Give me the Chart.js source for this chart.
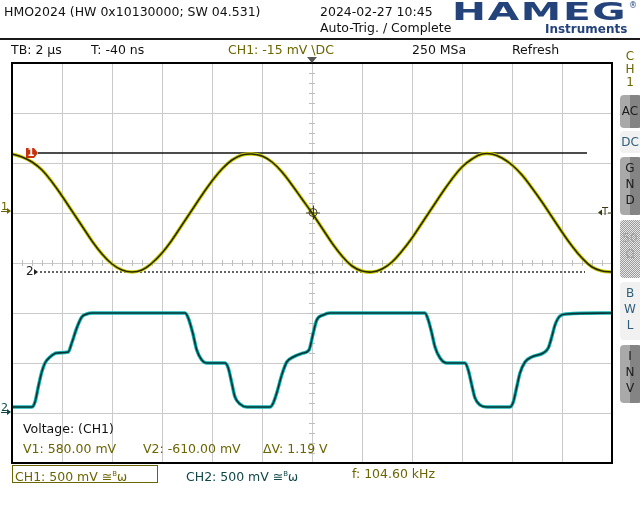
<!DOCTYPE html>
<html>
<head>
<meta charset="utf-8">
<script src="https://cdn.jsdelivr.net/npm/chart.js@4.4.1/dist/chart.umd.min.js"></script>
<style>
  body { margin: 0; background: #fff; }
  #scope { position: relative; width: 640px; height: 520px; overflow: hidden; font-family: "DejaVu Sans", sans-serif; font-size: 12.5px; color: #111; }
  #chart { position: absolute; left: 0; top: 0; }
  .t { position: absolute; line-height: 16px; white-space: nowrap; }
  .olive { color: #6b6500; }
  .teal { color: #0f4646; }
  .rule { position: absolute; left: 0; top: 38px; width: 640px; height: 2px; background: #1a1a1a; }
  #logo { position: absolute; left: 452px; top: -3px; font: bold 24px "DejaVu Sans", sans-serif; color: #24437a; transform-origin: 0 0; letter-spacing: 1px; }
  #reg { position: absolute; left: 629px; top: 1px; font-size: 8px; color: #24437a; }
  #instr { position: absolute; left: 545px; top: 21px; font: bold 13px "DejaVu Sans", sans-serif; color: #24437a; transform-origin: 0 0; }
  .bw sup { font-size: 7px; vertical-align: 5px; }
  .bw { font-size: 12px; }
  #ch1box { position: absolute; left: 12px; top: 465px; width: 144px; height: 16px; border: 1px solid #6b6500; }
  .side { position: absolute; left: 625px; width: 10px; text-align: center; line-height: 14px; font-size: 12px; }
  .btn { position: absolute; left: 620px; width: 22px; border-radius: 4px; font-size: 12px; line-height: 16px; box-sizing: border-box; }
  .btn span { display: block; width: 20px; text-align: center; }
  .gray { background: linear-gradient(90deg, #a9a9a9 0 45%, #848484 45% 100%); color: #1c1c1c; }
  .light { background: #f1f1f1; color: #2f5f7a; }
  .dith { background: repeating-conic-gradient(#9c9c9c 0 25%, #e6e6e6 0 50%) 0 0 / 2px 2px; color: #a2a2a2; }
</style>
</head>
<body>
<div id="scope">
  <canvas id="chart" width="640" height="520"></canvas>

  <div class="t" style="left:4px;top:4px">HMO2024 (HW 0x10130000; SW 04.531)</div>
  <div class="t" style="left:320px;top:4px">2024-02-27 10:45</div>
  <div class="t" style="left:320px;top:20px">Auto-Trig. / Complete</div>
  <div id="logo">HAMEG</div>
  <div id="reg">®</div>
  <div id="instr">Instruments</div>
  <div class="rule"></div>

  <div class="t" style="left:11px;top:42px">TB: 2 µs</div>
  <div class="t" style="left:91px;top:42px">T: -40 ns</div>
  <div class="t olive" style="left:228px;top:42px">CH1: -15 mV \DC</div>
  <div class="t" style="left:412px;top:42px">250 MSa</div>
  <div class="t" style="left:512px;top:42px">Refresh</div>

  <div class="side olive" style="top:49px">C</div>
  <div class="side olive" style="top:62px">H</div>
  <div class="side olive" style="top:75px">1</div>
  <div class="btn gray" style="top:95px;height:33px;padding-top:8px"><span>AC</span></div>
  <div class="btn light" style="top:131px;height:22px;padding-top:3px"><span>DC</span></div>
  <div class="btn gray" style="top:157px;height:58px;padding-top:3px"><span>G</span><span>N</span><span>D</span></div>
  <div class="btn dith" style="top:220px;height:58px;padding-top:10px"><span>50</span><span>Ω</span></div>
  <div class="btn light" style="top:282px;height:58px;padding-top:3px"><span>B</span><span>W</span><span>L</span></div>
  <div class="btn gray" style="top:345px;height:58px;padding-top:3px"><span>I</span><span>N</span><span>V</span></div>

  <div class="t" style="left:23px;top:421px">Voltage: (CH1)</div>
  <div class="t olive" style="left:23px;top:441px">V1: 580.00 mV</div>
  <div class="t olive" style="left:143px;top:441px">V2: -610.00 mV</div>
  <div class="t olive" style="left:263px;top:441px">ΔV: 1.19 V</div>

  <div id="ch1box"></div>
  <div class="t olive" style="left:15px;top:466px">CH1: 500 mV ≅<span class="bw"><sup>B</sup>ω</span></div>
  <div class="t teal" style="left:186px;top:466px">CH2: 500 mV ≅<span class="bw"><sup>B</sup>ω</span></div>
  <div class="t olive" style="left:352px;top:466px">f: 104.60 kHz</div>
</div>

<script>
// DATA (time in µs, voltage in V)
const ch1TimeUs = [-12.0, -11.6, -11.2, -10.8, -10.4, -10.0, -9.6, -9.2, -8.8, -8.4,
  -8.0, -7.6, -7.2, -6.8, -6.4, -6.0, -5.6, -5.2, -4.8, -4.4,
  -4.0, -3.6, -3.2, -2.8, -2.4, -2.0, -1.6, -1.2, -0.8, -0.4,
  0.0, 0.4, 0.8, 1.2, 1.6, 2.0, 2.4, 2.8, 3.2, 3.6,
  4.0, 4.4, 4.8, 5.2, 5.6, 6.0, 6.4, 6.8, 7.2, 7.6,
  8.0, 8.4, 8.8, 9.2, 9.6, 10.0, 10.4, 10.8, 11.2, 11.6, 12.0];
const ch1Volts = [0.57, 0.54, 0.49, 0.41, 0.29, 0.15, 0.00, -0.15, -0.30, -0.43,
  -0.53, -0.59, -0.61, -0.59, -0.52, -0.42, -0.29, -0.14, 0.01, 0.16,
  0.30, 0.42, 0.51, 0.56, 0.57, 0.55, 0.49, 0.39, 0.26, 0.12,
  -0.02, -0.17, -0.32, -0.45, -0.55, -0.60, -0.61, -0.58, -0.51, -0.40,
  -0.27, -0.12, 0.03, 0.18, 0.32, 0.44, 0.52, 0.57, 0.57, 0.53,
  0.46, 0.36, 0.23, 0.09, -0.06, -0.21, -0.35, -0.47, -0.56, -0.60, -0.61];

const ch2TimeUs = [-12.0, -11.2, -11.08, -10.95, -10.81, -10.68, -10.48, -10.21, -9.75, -9.61,
  -9.41, -9.21, -9.01, -8.8, -5.08, -4.95, -4.77, -4.61, -4.41, -4.21,
  -3.48, -3.35, -3.21, -3.08, -2.88, -2.61, -1.68, -1.55, -1.41, -1.21,
  -1.01, -0.75, -0.35, -0.12, 0.05, 0.19, 0.45, 0.72, 4.52, 4.65,
  4.79, 4.92, 5.12, 5.39, 6.12, 6.25, 6.39, 6.52, 6.72, 6.99,
  7.92, 8.05, 8.19, 8.32, 8.52, 8.79, 9.25, 9.45, 9.59, 9.72,
  9.92, 10.19, 12.0];
const ch2Volts = [0.05, 0.05, 0.10, 0.25, 0.40, 0.49, 0.55, 0.59, 0.60, 0.69,
  0.84, 0.95, 0.98, 0.99, 0.99, 0.94, 0.79, 0.62, 0.52, 0.49,
  0.49, 0.44, 0.29, 0.15, 0.08, 0.05, 0.05, 0.09, 0.19, 0.37,
  0.50, 0.55, 0.59, 0.62, 0.79, 0.92, 0.97, 0.99, 0.99, 0.92,
  0.79, 0.65, 0.54, 0.49, 0.49, 0.42, 0.27, 0.14, 0.07, 0.05,
  0.05, 0.10, 0.25, 0.39, 0.50, 0.55, 0.59, 0.64, 0.75, 0.87,
  0.96, 0.98, 0.99];

// cursors (V1, V2) and how far they reach along time
const cursorVolts = [0.58, -0.61];
const cursor1SpanUs = [-10.96, 11.0];
const cursor2SpanUs = [-10.88, 10.92];
const triggerLevelV = -0.015;

// screen: 12 div x 2 µs, 8 div x 500 mV, ground of each channel sits at its own offset
const timeRange = [-12, 12];
const ch1Range = [-2.52, 1.48];
const ch2Range = [-0.51, 3.49];

const OLIVE = "#6b6500";
const TEAL = "#0f4646";

function pts(xs, ys) {
  return xs.map((x, i) => ({ x: x, y: ys[i] }));
}

// DECORATIONS: frame, centre-cross minor ticks, channel markers
const scopeDecor = {
  id: "scopeDecor",
  beforeDatasetsDraw(chart) {
    const ctx = chart.ctx, xs = chart.scales.x, ys = chart.scales.y;
    const cx = xs.getPixelForValue(0), cy = ys.getPixelForValue(0);
    ctx.save();
    ctx.strokeStyle = "#bdbdbd";
    ctx.lineWidth = 1;
    ctx.beginPath();
    for (let i = -20; i <= 20; i++) {
      const py = Math.round(ys.getPixelForValue(i / 5)) + 0.5;
      ctx.moveTo(cx - 3, py); ctx.lineTo(cx + 3, py);
    }
    for (let i = -30; i <= 30; i++) {
      const px = Math.round(xs.getPixelForValue(i * 0.4)) + 0.5;
      ctx.moveTo(px, cy - 3); ctx.lineTo(px, cy + 3);
    }
    ctx.stroke();
    ctx.restore();
  },
  afterDraw(chart) {
    const ctx = chart.ctx, a = chart.chartArea;
    const xs = chart.scales.x, y1 = chart.scales.yCh1, y2 = chart.scales.yCh2;
    ctx.save();

    // frame
    ctx.strokeStyle = "#000";
    ctx.lineWidth = 2;
    ctx.strokeRect(a.left, a.top, a.right - a.left, a.bottom - a.top);

    // cursor 1 tag
    const c1 = y1.getPixelForValue(cursorVolts[0]);
    ctx.fillStyle = "#c8320a";
    ctx.beginPath();
    ctx.moveTo(26, c1 - 5); ctx.lineTo(34, c1 - 5); ctx.lineTo(38, c1);
    ctx.lineTo(34, c1 + 5); ctx.lineTo(26, c1 + 5); ctx.closePath();
    ctx.fill();
    ctx.fillStyle = "#fff";
    ctx.font = "bold 10px 'DejaVu Sans'";
    ctx.textBaseline = "middle";
    ctx.fillText("1", 27.5, c1 + 0.5);

    // cursor 2 tag
    const c2 = y1.getPixelForValue(cursorVolts[1]);
    ctx.fillStyle = "#222";
    ctx.font = "12px 'DejaVu Sans'";
    ctx.fillText("2", 26, c2);
    ctx.beginPath();
    ctx.moveTo(34, c2 - 3); ctx.lineTo(38, c2); ctx.lineTo(34, c2 + 3); ctx.fill();

    // ground markers on the left edge
    [[y1.getPixelForValue(0), "1", OLIVE], [y2.getPixelForValue(0), "2", TEAL]].forEach(m => {
      ctx.fillStyle = m[2];
      ctx.strokeStyle = m[2];
      ctx.font = "11px 'DejaVu Sans'";
      ctx.textBaseline = "alphabetic";
      ctx.fillText(m[1], 1, m[0] - 1);
      ctx.lineWidth = 1;
      ctx.beginPath(); ctx.moveTo(1, m[0] + 0.5); ctx.lineTo(8, m[0] + 0.5); ctx.stroke();
      ctx.beginPath(); ctx.moveTo(7, m[0] - 3); ctx.lineTo(11, m[0]); ctx.lineTo(7, m[0] + 3); ctx.fill();
    });

    // trigger level marker on the right, trigger position on top
    const ty = y1.getPixelForValue(triggerLevelV), tx = xs.getPixelForValue(0);
    ctx.fillStyle = "#3a3a10";
    ctx.strokeStyle = "#3a3a10";
    ctx.beginPath(); ctx.moveTo(598, ty); ctx.lineTo(602, ty - 3); ctx.lineTo(602, ty + 3); ctx.fill();
    ctx.font = "10px 'DejaVu Sans'";
    ctx.textBaseline = "middle";
    ctx.fillText("T", 602, ty);
    ctx.beginPath(); ctx.moveTo(608, ty + 0.5); ctx.lineTo(612, ty + 0.5); ctx.stroke();

    ctx.fillStyle = "#555";
    ctx.beginPath(); ctx.moveTo(tx - 5, a.top - 6); ctx.lineTo(tx + 5, a.top - 6); ctx.lineTo(tx, a.top); ctx.fill();

    // trigger point crosshair
    ctx.strokeStyle = "#3a3a10";
    ctx.lineWidth = 1;
    ctx.beginPath(); ctx.arc(tx + 1, ty, 4, 0, Math.PI * 2); ctx.stroke();
    ctx.beginPath();
    ctx.moveTo(tx - 6, ty + 0.5); ctx.lineTo(tx + 8, ty + 0.5);
    ctx.moveTo(tx + 1.5, ty - 7); ctx.lineTo(tx + 1.5, ty + 7);
    ctx.stroke();

    ctx.restore();
  }
};

// CHART
const gridStyle = { color: "#cacaca", lineWidth: 1, drawTicks: false };

new Chart(document.getElementById("chart"), {
  type: "line",
  data: {
    datasets: [
      { data: pts(ch1TimeUs, ch1Volts), yAxisID: "yCh1", borderColor: "#28280a", borderWidth: 1.6, tension: 0.4, order: 0 },
      { data: pts(ch1TimeUs, ch1Volts), yAxisID: "yCh1", borderColor: "#cfcf00", borderWidth: 3.5, tension: 0.4, order: 1 },
      { data: pts(ch2TimeUs, ch2Volts), yAxisID: "yCh2", borderColor: "#0b3333", borderWidth: 1.6, cubicInterpolationMode: "monotone", order: 0 },
      { data: pts(ch2TimeUs, ch2Volts), yAxisID: "yCh2", borderColor: "#12b4b4", borderWidth: 3.5, cubicInterpolationMode: "monotone", order: 1 },
      { data: pts(cursor1SpanUs, [cursorVolts[0], cursorVolts[0]]), yAxisID: "yCh1", borderColor: "#111", borderWidth: 1.3, order: 2 },
      { data: pts(cursor2SpanUs, [cursorVolts[1], cursorVolts[1]]), yAxisID: "yCh1", borderColor: "#111", borderWidth: 1.3, borderDash: [2, 2], order: 2 }
    ]
  },
  options: {
    responsive: false,
    animation: false,
    events: [],
    layout: { padding: { left: 12, top: 63, right: 28, bottom: 57 } },
    elements: { point: { radius: 0 } },
    plugins: { legend: { display: false }, tooltip: { enabled: false } },
    scales: {
      x: { type: "linear", min: timeRange[0], max: timeRange[1], ticks: { display: false, stepSize: 2 }, grid: gridStyle, border: { display: false } },
      y: { type: "linear", min: -4, max: 4, ticks: { display: false, stepSize: 1 }, grid: gridStyle, border: { display: false } },
      yCh1: { type: "linear", display: false, min: ch1Range[0], max: ch1Range[1] },
      yCh2: { type: "linear", display: false, min: ch2Range[0], max: ch2Range[1] }
    }
  },
  plugins: [scopeDecor]
});

// LOGO width fit
const logo = document.getElementById("logo");
logo.style.transform = "scale(" + (176 / logo.offsetWidth) + ",1.05)";
const instr = document.getElementById("instr");
instr.style.transform = "scaleX(" + (82 / instr.offsetWidth) + ")";
</script>
</body>
</html>
